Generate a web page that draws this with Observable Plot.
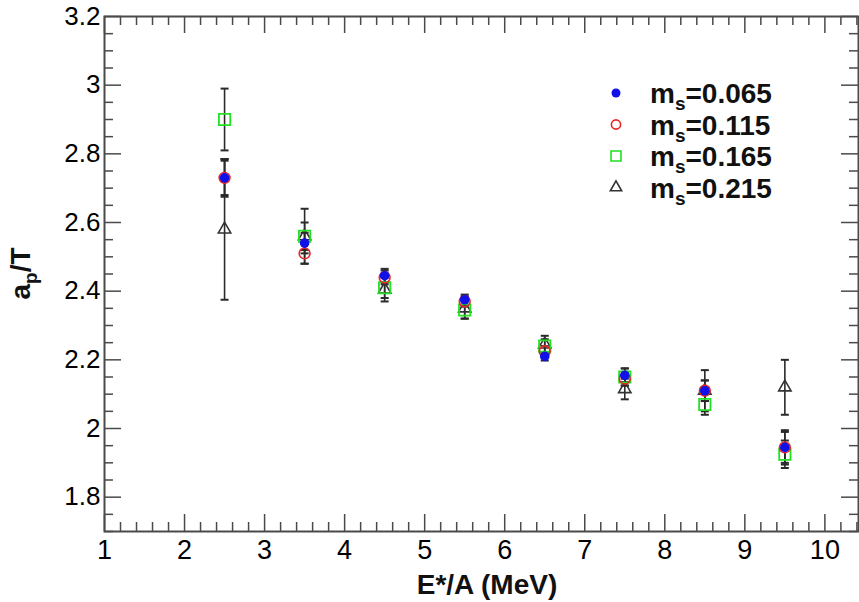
<!DOCTYPE html>
<html>
<head>
<meta charset="utf-8">
<script src="https://cdn.jsdelivr.net/npm/d3@7"></script>
<script src="https://cdn.jsdelivr.net/npm/@observablehq/plot@0.6"></script>
<style>
  html, body { margin: 0; padding: 0; background: #fff; }
  #chart svg { display: block; }
</style>
</head>
<body>
<div id="chart"></div>
<script>
// ---- data ----
const energies = [2.5, 3.5, 4.5, 5.5, 6.5, 7.5, 8.5, 9.5];
const seriesNames = ["0.065", "0.115", "0.165", "0.215"];
const ms065 = [2.73, 2.54, 2.445, 2.375, 2.21, 2.155, 2.11, 1.945];
const ms065Err = [0.055, 0.03, 0.02, 0.015, 0.012, 0.02, 0.03, 0.05];
const ms115 = [2.73, 2.51, 2.44, 2.37, 2.225, 2.145, 2.11, 1.945];
const ms115Err = [0.05, 0.03, 0.02, 0.015, 0.015, 0.02, 0.03, 0.045];
const ms165 = [2.90, 2.56, 2.41, 2.345, 2.24, 2.15, 2.07, 1.925];
const ms165Err = [0.09, 0.04, 0.03, 0.025, 0.02, 0.025, 0.03, 0.04];
const ms215 = [2.58, 2.56, 2.405, 2.35, 2.245, 2.115, 2.11, 2.12];
const ms215Err = [0.205, 0.08, 0.035, 0.03, 0.025, 0.03, 0.06, 0.08];
const xTickLabels = [1, 2, 3, 4, 5, 6, 7, 8, 9, 10];
const yTickLabels = [1.8, 2, 2.2, 2.4, 2.6, 2.8, 3, 3.2];

const values = [ms065, ms115, ms165, ms215];
const errors = [ms065Err, ms115Err, ms165Err, ms215Err];
const rows = [];
seriesNames.forEach((s, i) => energies.forEach((x, j) => rows.push({s, x, y: values[i][j], err: errors[i][j]})));
const bySeries = s => rows.filter(d => d.s === s);

const W = 859, H = 602;
const mL = 104, mR = 1, mT = 16, mB = 71;
const pw = W - mL - mR, ph = H - mT - mB;
const xDomain = [1, 10.42], yDomain = [1.7, 3.2];
const xMinor = d3.range(1, 10.42, 0.2).map(v => +v.toFixed(2)).filter(v => Math.abs(v - Math.round(v)) > 1e-6);
const yMinor = d3.range(1.7, 3.2001, 0.05).map(v => +v.toFixed(2)).filter(v => !yTickLabels.some(t => Math.abs(t - v) < 1e-6));

const axisCol = "#4a4a4a";
const majorLen = 17, minorLen = 9;
const cap = { draw(ctx, size) { const w = Math.sqrt(size / Math.PI); ctx.moveTo(-w, 0); ctx.lineTo(w, 0); } };

const colBlue = "#1010e8", colRed = "#e82828", colGreen = "#22e022", colTri = "#333333";

const chart = Plot.plot({
  width: W, height: H,
  marginLeft: mL, marginRight: mR, marginTop: mT, marginBottom: mB,
  style: { fontFamily: "'Liberation Sans', Arial, sans-serif", fontSize: "26px", background: "#fff" },
  x: { domain: xDomain },
  y: { domain: yDomain },
  marks: [
    // inward ticks, all four sides
    Plot.tickX(xTickLabels, { x: d => d, insetTop: ph - majorLen, stroke: axisCol, strokeWidth: 1.5 }),
    Plot.tickX(xMinor, { x: d => d, insetTop: ph - minorLen, stroke: axisCol, strokeWidth: 1.5 }),
    Plot.tickX(xTickLabels, { x: d => d, insetBottom: ph - majorLen, stroke: axisCol, strokeWidth: 1.5 }),
    Plot.tickX(xMinor, { x: d => d, insetBottom: ph - minorLen, stroke: axisCol, strokeWidth: 1.5 }),
    Plot.tickY(yTickLabels, { y: d => d, insetRight: pw - majorLen, stroke: axisCol, strokeWidth: 1.5 }),
    Plot.tickY(yMinor, { y: d => d, insetRight: pw - minorLen, stroke: axisCol, strokeWidth: 1.5 }),
    Plot.tickY(yTickLabels, { y: d => d, insetLeft: pw - majorLen, stroke: axisCol, strokeWidth: 1.5 }),
    Plot.tickY(yMinor, { y: d => d, insetLeft: pw - minorLen, stroke: axisCol, strokeWidth: 1.5 }),
    Plot.frame({ stroke: axisCol, strokeWidth: 2 }),
    Plot.axisX(xTickLabels, { tickSize: 0, tickPadding: 8, fontSize: 27, label: null, tickFormat: d => String(d) }),
    Plot.axisY(yTickLabels, { tickSize: 0, tickPadding: 4, fontSize: 26, label: null, tickFormat: d => String(+d.toFixed(1)) }),
    // error bars
    Plot.ruleX(rows, { x: "x", y1: d => d.y - d.err, y2: d => d.y + d.err, stroke: "#2a2a2a", strokeWidth: 1.6 }),
    Plot.dot(rows, { x: "x", y: d => d.y - d.err, symbol: cap, r: 4, stroke: "#2a2a2a", strokeWidth: 2 }),
    Plot.dot(rows, { x: "x", y: d => d.y + d.err, symbol: cap, r: 4, stroke: "#2a2a2a", strokeWidth: 2 }),
    // markers
    Plot.dot(bySeries("0.215"), { x: "x", y: "y", symbol: "triangle", r: 4.6, stroke: colTri, strokeWidth: 1.6, fill: "none" }),
    Plot.dot(bySeries("0.165"), { x: "x", y: "y", symbol: "square", r: 6.4, stroke: colGreen, strokeWidth: 1.8, fill: "none" }),
    Plot.dot(bySeries("0.115"), { x: "x", y: "y", symbol: "circle", r: 5.4, stroke: colRed, strokeWidth: 1.6, fill: "none" }),
    Plot.dot(bySeries("0.065"), { x: "x", y: "y", symbol: "circle", r: 4.8, fill: colBlue, stroke: "none" })
  ]
});

document.getElementById("chart").appendChild(chart);

// ---- axis titles and legend ----
const svg = d3.select(chart);
const font = "'Liberation Sans', Arial, sans-serif";

svg.append("text")
  .attr("x", mL + pw / 2 + 6).attr("y", 594)
  .attr("text-anchor", "middle")
  .attr("font-family", font).attr("font-size", 28).attr("font-weight", "bold")
  .attr("fill", "#111")
  .text("E*/A (MeV)");

const yt = svg.append("text")
  .attr("transform", `translate(30, ${mT + ph / 2}) rotate(-90)`)
  .attr("text-anchor", "middle")
  .attr("font-family", font).attr("font-size", 28).attr("font-weight", "bold")
  .attr("fill", "#111");
yt.append("tspan").text("a");
yt.append("tspan").attr("font-size", 19).attr("dy", 7).text("p");
yt.append("tspan").attr("dy", -7).text("/T");

const legendStyles = [
  { type: d3.symbolCircle, r: 4.5, fill: colBlue, stroke: "none" },
  { type: d3.symbolCircle, r: 4.6, fill: "none", stroke: colRed },
  { type: d3.symbolSquare, r: 5.6, fill: "none", stroke: colGreen },
  { type: d3.symbolTriangle, r: 4.2, fill: "none", stroke: colTri }
];
const lg = svg.append("g");
seriesNames.forEach((s, i) => {
  const yy = 93 + i * 31.5;
  const st = legendStyles[i];
  lg.append("path")
    .attr("transform", `translate(616, ${yy})`)
    .attr("d", d3.symbol(st.type, Math.PI * st.r * st.r)())
    .attr("fill", st.fill).attr("stroke", st.stroke).attr("stroke-width", 1.6);
  const t = lg.append("text")
    .attr("x", 650).attr("y", yy + 10)
    .attr("text-anchor", "start")
    .attr("font-family", font).attr("font-size", 28).attr("font-weight", "bold")
    .attr("fill", "#111");
  t.append("tspan").text("m");
  t.append("tspan").attr("font-size", 19).attr("dy", 7).text("s");
  t.append("tspan").attr("dy", -7).text("=" + s);
});
</script>
</body>
</html>
